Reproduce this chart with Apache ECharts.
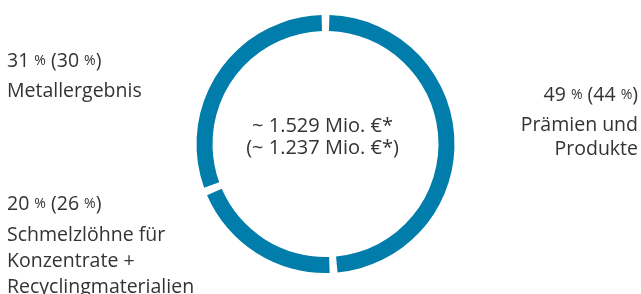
<!DOCTYPE html>
<html>
<head>
<meta charset="utf-8">
<script src="https://cdn.jsdelivr.net/npm/echarts@6/dist/echarts.min.js"></script>
<style>
  html, body { margin: 0; padding: 0; background: #fff; }
  #chart { width: 641px; height: 294px; }
</style>
</head>
<body>
<div id="chart"></div>
<script>
// segment data, clockwise from top
const names = ['Prämien und\nProdukte', 'Schmelzlöhne für\nKonzentrate +\nRecyclingmaterialien', 'Metallergebnis'];
const shares = [49, 20, 31];
const prevShares = [44, 26, 30];
const centerLines = ['~ 1.529 Mio. €*', '(~ 1.237 Mio. €*)'];

const BLUE = '#007dab';
const TEXT = '#333333';
const FONT = '"Open Sans", sans-serif';

// where each label block sits (x, y, align, line height of name lines)
const labelSpots = [
  { x: 638, y: 77, align: 'right' },
  { x: 7, y: 186, align: 'left' },
  { x: 7, y: 43, align: 'left' },
];

const chart = echarts.init(document.getElementById('chart'), null, { renderer: 'canvas' });

chart.setOption({
  animation: false,
  title: {
    text: centerLines.join('\n'),
    left: 322.5,
    top: 115,
    padding: 0,
    textAlign: 'center',
    textStyle: { fontFamily: FONT, fontSize: 20, fontWeight: 'normal', color: TEXT, lineHeight: 22 },
  },
  series: [{
    type: 'pie',
    center: [325.5, 144],
    radius: [113, 129],
    startAngle: 90,
    clockwise: true,
    silent: true,
    padAngle: 3.5,
    itemStyle: { color: BLUE, borderWidth: 0 },
    labelLine: { show: false },
    label: {
      show: true,
      position: 'outside',
      fontFamily: FONT,
      color: TEXT,
      fontSize: 19.5,
      formatter: (p) => {
        const i = p.dataIndex;
        const head = `{p|${shares[i]} }{s|%}{p| (${prevShares[i]} }{s|%}{p|)}`;
        const tag = i === 1 ? 'm' : 'n';
        const body = names[i].split('\n').map((l) => `{${tag}|${l}}`).join('\n');
        return head + '\n' + body;
      },
      rich: {
        p: { fontSize: 19.5, fontFamily: FONT, color: TEXT, lineHeight: 36 },
        s: { fontSize: 14, fontFamily: FONT, color: TEXT, lineHeight: 36 },
        n: { fontSize: 19.5, fontFamily: FONT, color: TEXT, lineHeight: 24 },
        m: { fontSize: 19.5, fontFamily: FONT, color: TEXT, lineHeight: 26 },
      },
    },
    labelLayout: (params) => {
      const spot = labelSpots[params.dataIndex];
      return { x: spot.x, y: spot.y, align: spot.align, verticalAlign: 'top', hideOverlap: false, moveOverlap: null };
    },
    data: shares.map((v, i) => ({ value: v, name: names[i] })),
  }],
});
</script>
</body>
</html>
